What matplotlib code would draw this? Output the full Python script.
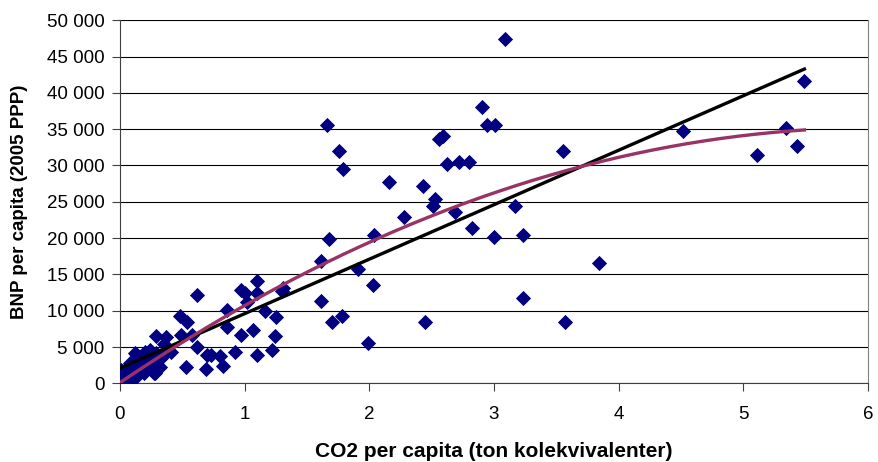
import numpy as np
import matplotlib.pyplot as plt
from matplotlib.ticker import FuncFormatter, MultipleLocator

plt.rcParams['font.family'] = ['Liberation Sans', 'DejaVu Sans']

# CO2 per capita (ton) and GDP per capita (2005 PPP), one entry per country
co2 = [
    # low emitters
    0.00, 0.01, 0.02, 0.03, 0.03, 0.04, 0.05, 0.06, 0.07, 0.08,
    0.09, 0.10, 0.11, 0.12, 0.13, 0.13, 0.15, 0.16, 0.18, 0.19,
    0.19, 0.21, 0.22, 0.24, 0.25, 0.27, 0.27, 0.28, 0.29, 0.29,
    0.29, 0.32, 0.33, 0.35, 0.37, 0.37, 0.41, 0.02, 0.01, 0.05,
    0.20, 0.12, 0.25,
    # middle
    0.615, 0.48, 0.54, 0.58, 0.62, 0.53, 0.69, 0.70, 0.80, 0.83,
    0.92, 0.86, 0.86, 0.97, 1.00, 1.02, 1.10, 1.10, 0.97, 1.07,
    1.16, 1.25, 1.24, 1.10, 1.22, 1.30, 1.31, 0.73, 0.49,
    # high emitters
    3.09, 1.66, 1.76, 1.79, 1.68, 1.61, 1.61, 1.70, 1.78, 1.91,
    2.03, 2.04, 1.99, 2.16, 2.28, 2.43, 2.45, 2.53, 2.51, 2.56,
    2.59, 2.62, 2.69, 2.72, 2.80, 2.82, 2.90, 2.94, 3.01, 3.00,
    3.17, 3.23, 3.23, 3.55, 3.57, 3.84, 4.52, 5.11, 5.34, 5.43,
    5.49,
]
gdp = [
    1150, 700, 900, 450, 300, 1850, 1200, 1500, 700, 2750,
    500, 1100, 1850, 2800, 4100, 900, 1700, 2300, 2200, 3200,
    1400, 2500, 3400, 4600, 2900, 2050, 1400, 1400, 6500, 4150,
    3200, 2300, 3450, 5400, 6400, 4350, 4350, 1500, 1800, 600,
    4350, 4200, 4350,
    12100, 9300, 8500, 6600, 5000, 2200, 2000, 3900, 3700, 2450,
    4250, 10100, 7700, 12900, 12400, 11200, 14100, 12400, 6700, 7300,
    10000, 9200, 6500, 3950, 4550, 12700, 13100, 3900, 6650,
    47400, 35500, 32000, 29500, 19900, 16900, 11300, 8500, 9300, 15800,
    13500, 20400, 5500, 27700, 22900, 27200, 8500, 25400, 24400, 33600,
    34000, 30200, 23600, 30500, 30500, 21400, 38100, 35500, 35500, 20100,
    24400, 20400, 11800, 32000, 8500, 16600, 34800, 31500, 35100, 32700,
    41600,
]

x = np.array(co2)
y = np.array(gdp)

# linear and 2nd order polynomial trend lines
lin = np.polyfit(x, y, 1)
quad = np.polyfit(x, y, 2)
xs = np.linspace(x.min(), x.max(), 200)

fig = plt.figure(figsize=(8.79, 4.62), dpi=100)
ax = fig.add_axes([0.1365, 0.1703, 0.851, 0.786])

ax.scatter(x, y, marker='D', s=60, color='#000080', linewidths=0, zorder=3)
ax.plot(xs, np.polyval(lin, xs), color='black', lw=2.4, zorder=4)
ax.plot(xs, np.polyval(quad, xs), color='#993366', lw=2.4, zorder=4)

ax.set_xlim(0, 6)
ax.set_ylim(0, 50000)
ax.xaxis.set_major_locator(MultipleLocator(1))
ax.yaxis.set_major_locator(MultipleLocator(5000))
ax.yaxis.set_major_formatter(FuncFormatter(lambda v, p: f'{v:,.0f}'.replace(',', ' ')))
ax.grid(axis='y', color='black', lw=0.8)
ax.set_axisbelow(True)

ax.spines['top'].set_visible(False)
ax.spines['right'].set_color('#808080')
ax.spines['left'].set_color('#404040')
ax.spines['bottom'].set_color('#404040')
ax.tick_params(direction='out', length=6, color='#404040', labelsize=13.5)
ax.tick_params(axis='y', pad=5)
ax.tick_params(axis='x', pad=10)

ax.set_xlabel('CO2 per capita (ton kolekvivalenter)', fontsize=15, fontweight='bold', labelpad=14)
ax.set_ylabel('BNP per capita (2005 PPP)', fontsize=13.5, fontweight='bold', labelpad=14)

fig.savefig('out.png', dpi=100)
